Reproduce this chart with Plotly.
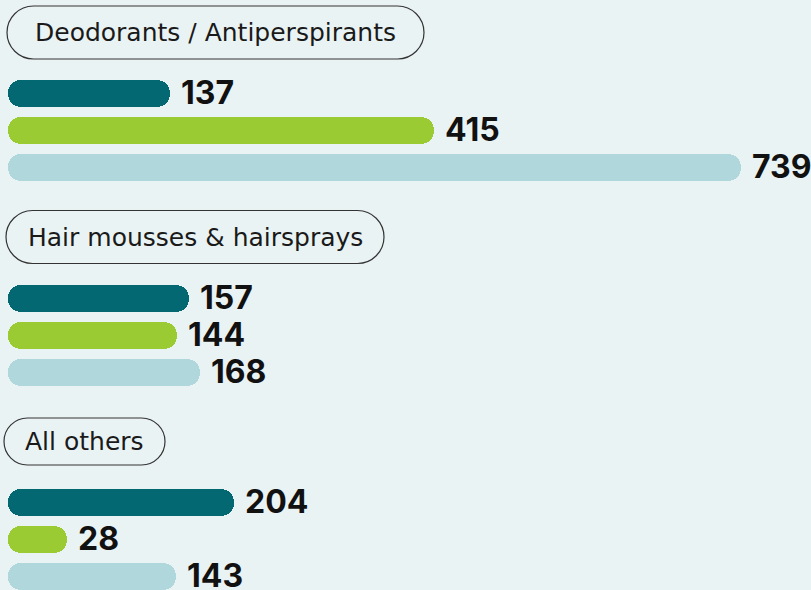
import plotly.graph_objects as go

# ---- data ----
categories = ["Deodorants / Antiperspirants", "Hair mousses & hairsprays", "All others"]
series_names = ["Series 1", "Series 2", "Series 3"]
series_1 = [137, 157, 204]
series_2 = [415, 144, 28]
series_3 = [739, 168, 143]

# ---- style ----
COLORS = ["#046872", "#9acb33", "#b0d7db"]
BG = "#eaf3f4"
W, H = 811, 590
BAR_T = 27            # bar thickness (px)
CAP_BASE = -34.2      # bar base (axis units) - room for the rounded caps
X_RANGE = [-42.6, 813.3]
GROUP_START = 93.5
GROUP_STEP = 204.5
INNER = [0, 37, 74]
PILL_OFFSET = -61
PILL_H = [53, 53, 47]
PILL_X = [(7, 424), (6, 384), (4, 165)]
K = 0.5523

series = [series_1, series_2, series_3]

fig = go.Figure()

for s_idx, vals in enumerate(series):
    ys = [GROUP_START + g * GROUP_STEP + INNER[s_idx] for g in range(len(categories))]
    fig.add_trace(go.Bar(
        x=[v - CAP_BASE for v in vals], y=ys, base=CAP_BASE, orientation="h",
        width=BAR_T, marker=dict(color=COLORS[s_idx], line=dict(width=0), cornerradius=BAR_T / 2),
        name=series_names[s_idx], showlegend=False, hoverinfo="skip",
    ))
    for v, y in zip(vals, ys):
        fig.add_annotation(x=v, y=y, text=str(v), showarrow=False, xanchor="left",
                           xshift=9, yshift=1, xref="x", yref="y",
                           font=dict(family="Inter", size=32, color="#111111", weight=700))

# category pills
shapes = []
for g, cat in enumerate(categories):
    yc = GROUP_START + g * GROUP_STEP + PILL_OFFSET
    h = PILL_H[g]
    r = h / 2
    x0, x1 = PILL_X[g]
    y0, y1 = yc - r, yc + r
    k = K * r
    path = (f"M {x0 + r},{y0} L {x1 - r},{y0} "
            f"C {x1 - r + k},{y0} {x1},{yc - k} {x1},{yc} "
            f"C {x1},{yc + k} {x1 - r + k},{y1} {x1 - r},{y1} "
            f"L {x0 + r},{y1} "
            f"C {x0 + r - k},{y1} {x0},{yc + k} {x0},{yc} "
            f"C {x0},{yc - k} {x0 + r - k},{y0} {x0 + r},{y0} Z")
    shapes.append(dict(type="path", path=path, xref="x2", yref="y",
                       line=dict(color="#333333", width=1.2), fillcolor="rgba(0,0,0,0)"))
    fig.add_annotation(x=(x0 + x1) / 2, y=yc, text=cat, showarrow=False, xref="x2", yref="y",
                       xanchor="center", font=dict(family="DejaVu Sans", size=25, color="#1a1a1a"))

fig.add_trace(go.Scatter(x=[0], y=[0], xaxis="x2", mode="markers",
                         marker=dict(opacity=0), showlegend=False, hoverinfo="skip"))

fig.update_layout(
    width=W, height=H, margin=dict(l=0, r=0, t=0, b=0),
    paper_bgcolor=BG, plot_bgcolor=BG, barmode="overlay", bargap=0,
    shapes=shapes,
    xaxis=dict(range=X_RANGE, visible=False, fixedrange=True),
    xaxis2=dict(range=[0, W], visible=False, overlaying="x", fixedrange=True),
    yaxis=dict(range=[H, 0], visible=False, fixedrange=True),
    showlegend=False,
)

fig.write_html("out.html", config={"displayModeBar": False},
               post_script="document.body.style.margin='0';document.body.style.background='" + BG + "';")
